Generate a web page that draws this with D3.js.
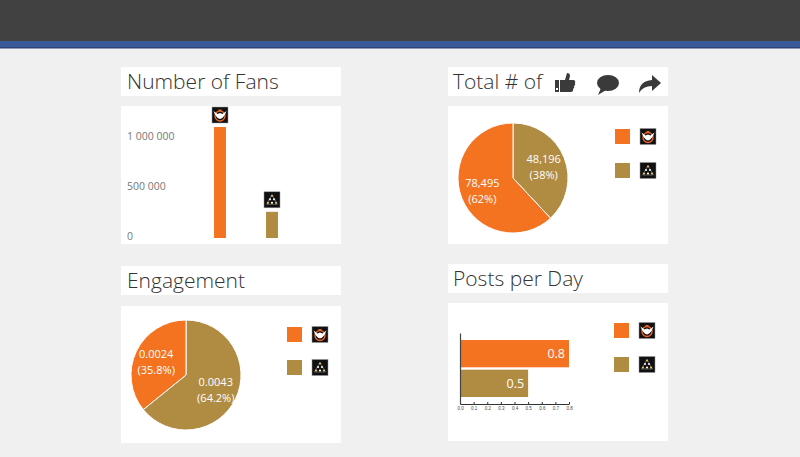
<!DOCTYPE html>
<html>
<head>
<meta charset="utf-8">
<script src="https://cdn.jsdelivr.net/npm/d3@7"></script>
<style>
  body { margin: 0; background: #f0f0f0; overflow: hidden; }
  svg { display: block; font-family: "Open Sans", "Noto Sans", sans-serif; }
</style>
</head>
<body>
<svg id="dash" width="800" height="457"></svg>
<script>
// data
var teams = ["division", "other"];
var teamColors = ["#f47321", "#b08c43"];
var fans = [1110000, 262000];
var fanTicks = [0, 500000, 1000000];
var totalActions = [78495, 48196];
var totalPct = ["62%", "38%"];
var engagement = [0.0024, 0.0043];
var engagementPct = ["35.8%", "64.2%"];
var postsPerDay = [0.8, 0.5];
var postTicks = [0, 0.1, 0.2, 0.3, 0.4, 0.5, 0.6, 0.7, 0.8];

var svg = d3.select("#dash");

// top header
svg.append("rect").attr("x", 0).attr("y", 0).attr("width", 800).attr("height", 41).attr("fill", "#414141");
svg.append("rect").attr("x", 0).attr("y", 41).attr("width", 800).attr("height", 7).attr("fill", "#3b5a99");
svg.append("rect").attr("x", 0).attr("y", 47).attr("width", 800).attr("height", 1.5).attr("fill", "#2c4479");

// panel boxes
function box(x, y, w, h) {
  svg.append("rect").attr("x", x).attr("y", y).attr("width", w).attr("height", h).attr("fill", "#ffffff");
}
function title(x, y, txt) {
  svg.append("text").attr("x", x).attr("y", y)
    .attr("font-size", 21).attr("font-weight", 300).attr("fill", "#333")
    .text(txt);
}

box(121, 67, 220, 29); title(127, 89, "Number of Fans");
box(121, 106, 220, 138);
box(448, 67, 220, 29); title(453, 89, "Total # of");
box(448, 106, 220, 138);
box(121, 266, 220, 29); title(127, 288, "Engagement");
box(121, 306, 220, 137);
box(448, 264, 220, 29); title(453, 286, "Posts per Day");
box(448, 303, 220, 138);

// logos (simplified)
function logo(x, y, s, team) {
  var g = svg.append("g").attr("transform", "translate(" + x + "," + y + ")");
  g.append("rect").attr("width", s).attr("height", s).attr("fill", "#111").attr("stroke", "#999").attr("stroke-width", 0.5);
  var k = s / 16;
  if (team === "division") {
    g.append("circle").attr("cx", 8 * k).attr("cy", 9 * k).attr("r", 5 * k)
      .attr("fill", "none").attr("stroke", "#e8642a").attr("stroke-width", 1.4 * k);
    g.append("path")
      .attr("d", "M" + 1.5 * k + "," + 4 * k + " Q" + 4 * k + "," + 11 * k + " " + 8 * k + "," + 12 * k +
        " Q" + 12 * k + "," + 11 * k + " " + 14.5 * k + "," + 4 * k +
        " L" + 10.5 * k + "," + 7 * k + " L" + 8 * k + "," + 6 * k + " L" + 5.5 * k + "," + 7 * k + " Z")
      .attr("fill", "#fff");
    g.append("rect").attr("x", 6.5 * k).attr("y", 2.5 * k).attr("width", 3 * k).attr("height", 1.5 * k).attr("fill", "#e8642a");
  } else {
    var pts = [[8, 4, "#f2c230"], [6, 7.5, "#fff"], [10, 7.5, "#fff"], [4, 11, "#f2c230"], [8, 11, "#fff"], [12, 11, "#f2c230"]];
    pts.forEach(function(p) {
      g.append("circle").attr("cx", p[0] * k).attr("cy", p[1] * k).attr("r", 1.1 * k).attr("fill", p[2]);
    });
    g.append("path")
      .attr("d", "M" + 8 * k + "," + 3 * k + " L" + 13.5 * k + "," + 12.5 * k + " L" + 2.5 * k + "," + 12.5 * k + " Z")
      .attr("fill", "none").attr("stroke", "#ccc").attr("stroke-width", 0.4 * k);
  }
}

function legend(x, y0, gap) {
  teams.forEach(function(t, i) {
    svg.append("rect").attr("x", x).attr("y", y0 + i * gap).attr("width", 15).attr("height", 15)
      .attr("fill", teamColors[i]);
    logo(x + 25, y0 + i * gap - 0.5, 16, t);
  });
}

// ---- Number of Fans ----
var fx = d3.scaleBand().domain(teams).range([194, 298]).paddingInner(0.77).paddingOuter(0.385);
var fy = d3.scaleLinear().domain([0, 1000000]).range([238, 138]);

var fanAxis = svg.append("g").attr("transform", "translate(127,0)")
  .call(d3.axisRight(fy).tickValues(fanTicks).tickSize(0)
    .tickFormat(function(d) { return d3.format(",")(d).replace(/,/g, " "); }));
fanAxis.select(".domain").remove();
fanAxis.selectAll("text").attr("x", 0).attr("dy", "0.1em").attr("fill", "#777")
  .attr("font-size", 10.5).attr("font-family", "Open Sans, sans-serif");

svg.selectAll(".fanbar").data(fans).enter().append("rect")
  .attr("class", "fanbar")
  .attr("x", function(d, i) { return fx(teams[i]); })
  .attr("y", function(d) { return fy(d); })
  .attr("width", fx.bandwidth())
  .attr("height", function(d) { return fy(0) - fy(d); })
  .attr("fill", function(d, i) { return teamColors[i]; });

fans.forEach(function(d, i) {
  logo(fx(teams[i]) + fx.bandwidth() / 2 - 8, fy(d) - 20, 16, teams[i]);
});

// ---- pies ----
function pie(cx, cy, r, values, pcts) {
  var order = [1, 0]; // brown slice starts at 12 o'clock
  var data = order.map(function(i) { return { i: i, v: values[i] }; });
  var arcs = d3.pie().sort(null).value(function(d) { return d.v; })(data);
  var arc = d3.arc().innerRadius(0).outerRadius(r);
  var labelArc = d3.arc().innerRadius(r * 0.6).outerRadius(r * 0.6);
  var g = svg.append("g").attr("transform", "translate(" + cx + "," + cy + ")");
  g.selectAll("path").data(arcs).enter().append("path")
    .attr("d", arc)
    .attr("fill", function(d) { return teamColors[d.data.i]; })
    .attr("stroke", "#fff").attr("stroke-width", 1);
  var lab = g.selectAll("g.lab").data(arcs).enter().append("g").attr("class", "lab")
    .attr("transform", function(d) { return "translate(" + labelArc.centroid(d) + ")"; });
  lab.append("text").attr("y", -3).attr("text-anchor", "middle").attr("fill", "#fff").attr("font-size", 11)
    .text(function(d) {
      return d.data.v < 1 ? d3.format(".4f")(d.data.v) : d3.format(",")(d.data.v);
    });
  lab.append("text").attr("y", 13).attr("text-anchor", "middle").attr("fill", "#fff").attr("font-size", 11)
    .text(function(d) { return "(" + pcts[d.data.i] + ")"; });
}

pie(513, 178, 55, totalActions, totalPct);
legend(615, 129, 34);

pie(186, 375, 55, engagement, engagementPct);
legend(287, 327, 33);

// header icons
var ic = svg.append("g").attr("fill", "#3a3a3a");
// thumbs up
ic.append("path").attr("d", "M555,80 h4 v12 h-4 Z");
ic.append("path").attr("d", "M560,80 L565,80 L567,73 Q570,73 570,76 L569,80 L574,80 Q576,81 575,83 Q576,85 574,86 Q575,88 573,89 Q574,91 571,92 L560,92 Z");
ic.append("rect").attr("x", 556).attr("y", 88).attr("width", 2).attr("height", 2).attr("fill", "#fff");
// speech bubble
ic.append("ellipse").attr("cx", 608).attr("cy", 83).attr("rx", 11).attr("ry", 8);
ic.append("path").attr("d", "M601,88 L598,95 L606,90 Z");
// share arrow
ic.append("path").attr("d", "M639,93 Q639,81 652,80 L652,75 L661,83 L652,91 L652,86 Q643,86 639,93 Z");

// ---- Posts per Day ----
var px = d3.scaleLinear().domain([0, 0.8]).range([460, 569]);
var py = d3.scaleBand().domain(teams).range([340, 397]).paddingInner(0.08);

svg.selectAll(".postbar").data(postsPerDay).enter().append("rect")
  .attr("class", "postbar")
  .attr("x", px(0))
  .attr("y", function(d, i) { return py(teams[i]); })
  .attr("width", function(d) { return px(d) - px(0); })
  .attr("height", py.bandwidth())
  .attr("fill", function(d, i) { return teamColors[i]; });

svg.selectAll(".postlab").data(postsPerDay).enter().append("text")
  .attr("class", "postlab")
  .attr("x", function(d) { return px(d) - 4; })
  .attr("y", function(d, i) { return py(teams[i]) + py.bandwidth() / 2; })
  .attr("dy", "0.35em").attr("text-anchor", "end")
  .attr("fill", "#fff").attr("font-size", 12.5)
  .text(function(d) { return d; });

var xAx = svg.append("g").attr("transform", "translate(0,404)")
  .call(d3.axisBottom(px).tickValues(postTicks).tickSize(-2).tickSizeOuter(0).tickFormat(d3.format(".1f")));
xAx.select(".domain").attr("stroke", "#333").attr("stroke-width", 1.2);
xAx.selectAll("line").attr("stroke", "#333");
xAx.selectAll("text").attr("font-size", 4.5).attr("fill", "#444").attr("y", 3);

var yAx = svg.append("g").attr("transform", "translate(460,0)")
  .call(d3.axisLeft(d3.scaleLinear().range([333, 404])).tickValues([]).tickSizeOuter(0));
yAx.select(".domain").attr("stroke", "#444").attr("stroke-width", 1.2);

legend(614, 323, 34);
</script>
</body>
</html>
